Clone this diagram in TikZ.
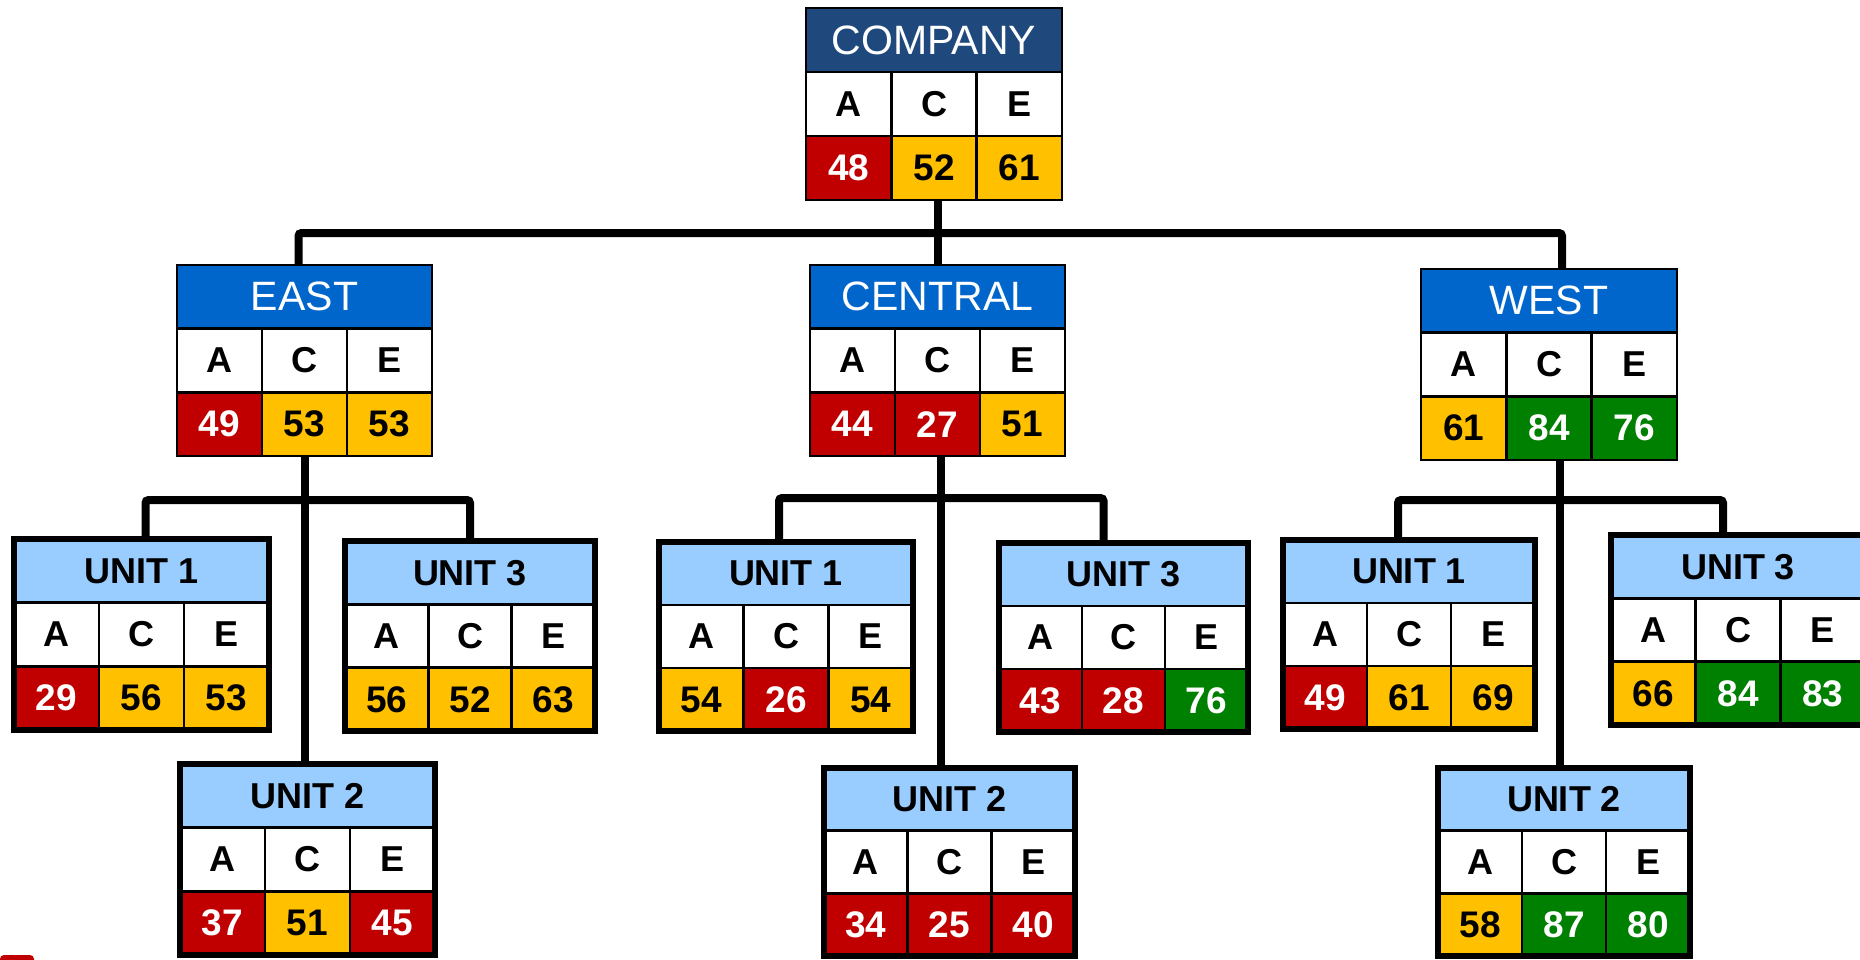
\documentclass[tikz,border=0pt]{standalone}
\usepackage{fontspec}
\setmainfont{Liberation Sans}
\usetikzlibrary{calc}

\definecolor{scNavy}{HTML}{1F497D}
\definecolor{scBlue}{HTML}{0066CC}
\definecolor{scSky}{HTML}{99CCFF}
\definecolor{scRed}{HTML}{C00000}
\definecolor{scAmber}{HTML}{FFC000}
\definecolor{scGreen}{HTML}{008000}

\tikzset{
  comp head/.style={fill=scNavy},
  comp title/.style={text=white, font=\fontsize{41}{49}\selectfont},
  comp frame/.style={draw=black, line width=2.5pt, inner sep=0pt, outer sep=0pt},
  region head/.style={fill=scBlue},
  region title/.style={text=white, font=\fontsize{41}{49}\selectfont},
  region frame/.style={draw=black, line width=2.5pt, inner sep=0pt, outer sep=0pt},
  unit head/.style={fill=scSky},
  unit title/.style={text=black, font=\bfseries\fontsize{36}{43}\selectfont},
  unit frame/.style={draw=black, line width=6pt, inner sep=0pt, outer sep=0pt},
  letter/.style={text=black, font=\bfseries\fontsize{36}{43}\selectfont},
  score/.style={font=\bfseries\fontsize{37}{44}\selectfont, inner sep=1pt},
  cellR/.style={fill=scRed, text=white},
  cellY/.style={fill=scAmber, text=black},
  cellG/.style={fill=scGreen, text=white},
  grid/.style={draw=black, line width=2.4pt},
  conn/.style={draw=black, line width=8pt, rounded corners=3pt},
}

% #1 name, #2 left, #3 top, #4 width, #5 height, #6 kind, #7 title, #8 cells (style/value)
\newcommand{\scorecard}[8]{%
  \pgfmathsetmacro\cw{#4/3}%
  \pgfmathsetmacro\bh{#5/3}%
  \fill[#6 head] (#2,#3) rectangle ++(#4,\bh);
  \node[#6 title] (#1-title) at (#2+#4/2,#3+\bh/2) {#7};
  \fill[white] (#2,#3+\bh) rectangle ++(#4,\bh);
  \foreach \l [count=\i from 0] in {A,C,E}
    \node[letter] (#1-\l) at (#2+\i*\cw+\cw/2,#3+1.5*\bh) {\l};
  \foreach \f/\v [count=\i from 0] in {#8} {
    \fill[\f] (#2+\i*\cw,#3+2*\bh) rectangle ++(\cw,\bh);
    \node[score,\f] (#1-v\i) at (#2+\i*\cw+\cw/2,#3+2.5*\bh) {\v};
  }
  \draw[grid] (#2,#3+\bh) -- ++(#4,0) (#2,#3+2*\bh) -- ++(#4,0)
    (#2+\cw,#3+\bh) -- ++(0,2*\bh) (#2+2*\cw,#3+\bh) -- ++(0,2*\bh);
  \node[#6 frame, minimum width=#4pt, minimum height=#5pt, anchor=north west] (#1) at (#2,#3) {};
}

\begin{document}
\begin{tikzpicture}[x=1pt,y=-1pt]
  \fill[white] (0,0) rectangle (1860,959);
  \useasboundingbox (0,0) rectangle (1860,959);

  % top level
  \scorecard{company}{806}{8}{256}{192}{comp}{COMPANY}{cellR/48,cellY/52,cellY/61}

  % regions
  \scorecard{east}{177}{265}{255}{191}{region}{EAST}{cellR/49,cellY/53,cellY/53}
  \scorecard{central}{810}{265}{255}{191}{region}{CENTRAL}{cellR/44,cellR/27,cellY/51}
  \scorecard{west}{1421}{269}{256}{191}{region}{WEST}{cellY/61,cellG/84,cellG/76}

  % units of the east region
  \scorecard{eu1}{14}{539}{255}{191}{unit}{UNIT 1}{cellR/29,cellY/56,cellY/53}
  \scorecard{eu2}{180}{764}{255}{191}{unit}{UNIT 2}{cellR/37,cellY/51,cellR/45}
  \scorecard{eu3}{345}{541}{250}{190}{unit}{UNIT 3}{cellY/56,cellY/52,cellY/63}

  % units of the central region
  \scorecard{cu1}{659}{542}{254}{189}{unit}{UNIT 1}{cellY/54,cellR/26,cellY/54}
  \scorecard{cu2}{824}{768}{251}{188}{unit}{UNIT 2}{cellR/34,cellR/25,cellR/40}
  \scorecard{cu3}{999}{543}{249}{189}{unit}{UNIT 3}{cellR/43,cellR/28,cellG/76}

  % units of the west region
  \scorecard{wu1}{1283}{540}{252}{189}{unit}{UNIT 1}{cellR/49,cellY/61,cellY/69}
  \scorecard{wu2}{1438}{768}{252}{188}{unit}{UNIT 2}{cellY/58,cellG/87,cellG/80}
  \scorecard{wu3}{1611}{535}{254}{190}{unit}{UNIT 3}{cellY/66,cellG/84,cellG/83}

  % branch levels
  \coordinate (topbar) at (0,233);
  \coordinate (eastbar) at (0,500);
  \coordinate (centralbar) at (0,498);
  \coordinate (westbar) at (0,500);

  % company to regions
  \draw[conn] (central.north) -- (central.north |- company.south);
  \draw[conn] ([xshift=-6pt]east.north) -- ([xshift=-6pt]east.north |- topbar)
    -- ([xshift=13pt]west.north |- topbar) -- ([xshift=13pt]west.north);

  % east to its units
  \draw[conn] (east.south) -- (east.south |- eu2.north);
  \draw[conn] ([xshift=4pt]eu1.north) -- ([xshift=4pt]eu1.north |- eastbar)
    -- (eu3.north |- eastbar) -- (eu3.north);

  % central to its units
  \draw[conn] ([xshift=3pt]central.south) -- ([xshift=3pt]central.south |- cu2.north);
  \draw[conn] ([xshift=-7pt]cu1.north) -- ([xshift=-7pt]cu1.north |- centralbar)
    -- ([xshift=-20pt]cu3.north |- centralbar) -- ([xshift=-20pt]cu3.north);

  % west to its units
  \draw[conn] ([xshift=11pt]west.south) -- ([xshift=11pt]west.south |- wu2.north);
  \draw[conn] ([xshift=-11pt]wu1.north) -- ([xshift=-11pt]wu1.north |- westbar)
    -- ([xshift=-15pt]wu3.north |- westbar) -- ([xshift=-15pt]wu3.north);

  % red tab at the lower left edge
  \fill[scRed, rounded corners=4pt] (0,955) rectangle (34,975);
\end{tikzpicture}
\end{document}
